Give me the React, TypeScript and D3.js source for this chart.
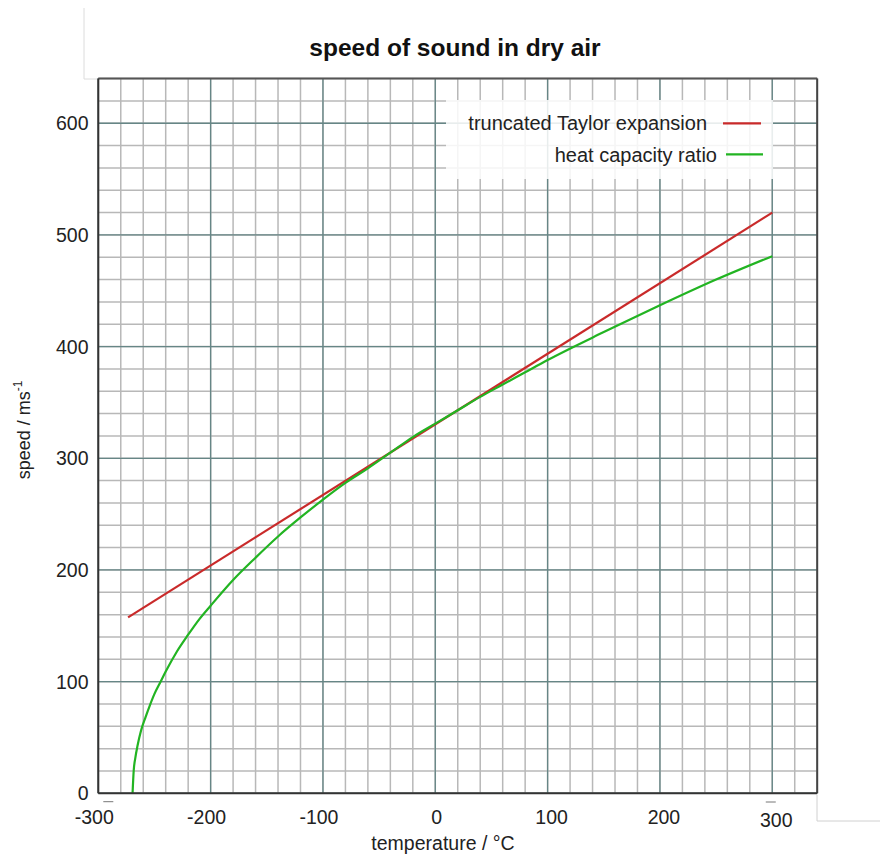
import React from "react";
import * as d3 from "d3";

// ---------- data ----------
const xTickLabels = [-300, -200, -100, 0, 100, 200, 300];
const yTickLabels = [0, 100, 200, 300, 400, 500, 600];
const xDomain = [-300, 340];
const yDomain = [0, 640];

// truncated Taylor expansion (straight line)
const taylorT = [-273.5, 300];
const taylorV = [157.5, 520];

// heat capacity ratio curve
const heatT = [
  -269.5, -268.5, -267, -265, -262, -258, -254, -250, -245, -240, -230, -220,
  -210, -200, -180, -160, -140, -120, -100, -80, -60, -40, -20, 0, 20, 40, 60,
  80, 100, 150, 200, 250, 300,
];
const heatV = [
  0, 20, 32, 43, 56, 68, 79, 89, 99, 109, 127, 142, 156, 168, 191, 211, 230,
  247, 263, 278, 291, 305, 319, 331, 343, 355, 366, 377, 388, 413, 437, 460,
  481,
];

const seriesNames = ["truncated Taylor expansion", "heat capacity ratio"];
const seriesColors = ["#c92a2a", "#22b422"];

// ---------- layout ----------
const W = 880;
const H = 856;
const left = 98.3;
const right = 817.2;
const top = 78.6;
const bottom = 793.3;
const font = "'Liberation Sans', Arial, Helvetica, sans-serif";

export default function App() {
  const x = d3.scaleLinear().domain(xDomain).range([left, right]);
  const y = d3.scaleLinear().domain(yDomain).range([bottom, top]);

  const minorX = d3.range(xDomain[0], xDomain[1] + 1, 20);
  const minorY = d3.range(yDomain[0], yDomain[1] + 1, 20);
  const majorX = d3.range(xDomain[0], xDomain[1] + 1, 100);
  const majorY = d3.range(yDomain[0], yDomain[1] + 1, 100);

  const line = d3
    .line<[number, number]>()
    .x((d) => x(d[0]))
    .y((d) => y(d[1]));
  const curve = d3
    .line<[number, number]>()
    .x((d) => x(d[0]))
    .y((d) => y(d[1]))
    .curve(d3.curveMonotoneX);

  const taylorPts = taylorT.map((t, i) => [t, taylorV[i]] as [number, number]);
  const heatPts = heatT.map((t, i) => [t, heatV[i]] as [number, number]);

  const legendRows = [
    { textEnd: 707, y: 129.5, lx1: 723, lx2: 761, ly: 123.3 },
    { textEnd: 717, y: 161.5, lx1: 726, lx2: 763, ly: 154.3 },
  ];

  return (
    <svg
      width={W}
      height={H}
      style={{ position: "absolute", left: 0, top: 0, background: "#fff" }}
      fontFamily={font}
    >
      {/* odd light frame fragments */}
      <path d="M84,8 V79 H98" fill="none" stroke="#dcdcdc" strokeWidth={1} />
      <path d="M817,795 V821 H880" fill="none" stroke="#d0d0d0" strokeWidth={1} />

      {/* minor grid */}
      <g stroke="#b8b8b8" strokeWidth={1.5}>
        {minorX.map((v) => (
          <line key={"mx" + v} x1={x(v)} x2={x(v)} y1={top} y2={bottom} />
        ))}
        {minorY.map((v) => (
          <line key={"my" + v} x1={left} x2={right} y1={y(v)} y2={y(v)} />
        ))}
      </g>
      {/* major grid */}
      <g stroke="#668686" strokeWidth={1.3}>
        {majorX.map((v) => (
          <line key={"Mx" + v} x1={x(v)} x2={x(v)} y1={top} y2={bottom} />
        ))}
        {majorY.map((v) => (
          <line key={"My" + v} x1={left} x2={right} y1={y(v)} y2={y(v)} />
        ))}
      </g>

      {/* series */}
      <path d={line(taylorPts) || ""} fill="none" stroke={seriesColors[0]} strokeWidth={2.2} />
      <path d={curve(heatPts) || ""} fill="none" stroke={seriesColors[1]} strokeWidth={2.2} />

      {/* legend */}
      <rect x={446} y={100} width={327} height={79} fill="#fff" fillOpacity={0.85} />
      {seriesNames.map((name, i) => (
        <g key={name}>
          <text
            x={legendRows[i].textEnd}
            y={legendRows[i].y}
            textAnchor="end"
            fontSize={20}
            fill="#222"
          >
            {name}
          </text>
          <line
            x1={legendRows[i].lx1}
            x2={legendRows[i].lx2}
            y1={legendRows[i].ly}
            y2={legendRows[i].ly}
            stroke={seriesColors[i]}
            strokeWidth={2.2}
          />
        </g>
      ))}

      {/* frame */}
      <line x1={left} x2={right} y1={top} y2={top} stroke="#555" strokeWidth={2} />
      <line x1={right} x2={right} y1={top} y2={bottom} stroke="#444" strokeWidth={2} />
      <line x1={left} x2={right} y1={bottom} y2={bottom} stroke="#333" strokeWidth={2} />
      <line x1={left} x2={left} y1={top} y2={bottom} stroke="#333" strokeWidth={2} />

      {/* small dashes above end labels */}
      <line x1={x(-300) + 5} x2={x(-300) + 15} y1={801.7} y2={801.7} stroke="#777" strokeWidth={1} />
      <line x1={x(300) - 6.5} x2={x(300) + 3.5} y1={802} y2={802} stroke="#777" strokeWidth={1} />

      {/* x tick labels */}
      {xTickLabels.map((v) => (
        <text
          key={"xl" + v}
          x={x(v) + (v < 0 ? -4 : v > 0 ? 4 : 1.5)}
          y={v === 300 ? 827 : 824}
          textAnchor="middle"
          fontSize={19.5}
          fill="#222"
        >
          {v}
        </text>
      ))}
      {/* y tick labels */}
      {yTickLabels.map((v) => (
        <text
          key={"yl" + v}
          x={88.5}
          y={y(v) + 7}
          textAnchor="end"
          fontSize={19.5}
          fill="#222"
        >
          {v}
        </text>
      ))}

      {/* title */}
      <text x={455} y={56} textAnchor="middle" fontSize={24.5} fontWeight="bold" fill="#111">
        speed of sound in dry air
      </text>

      {/* axis labels */}
      <text x={443} y={850} textAnchor="middle" fontSize={19.5} fill="#222">
        temperature / °C
      </text>
      <text
        transform="translate(30,430) rotate(-90)"
        textAnchor="middle"
        fontSize={18}
        fill="#222"
      >
        speed / ms
        <tspan fontSize={12} dy={-8}>
          -1
        </tspan>
      </text>
    </svg>
  );
}
